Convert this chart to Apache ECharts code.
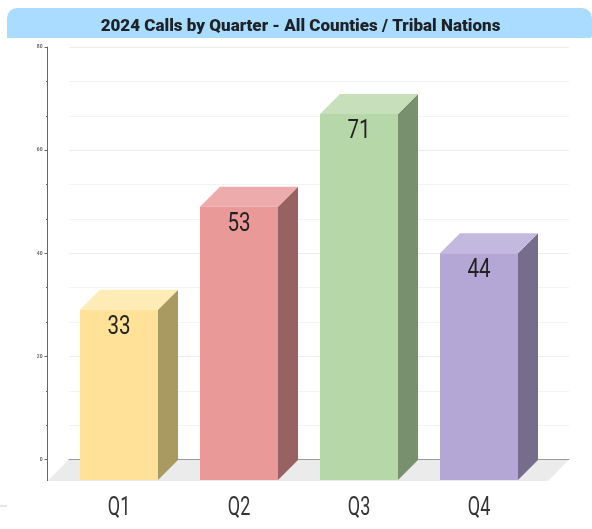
<!DOCTYPE html>
<html><head><meta charset="utf-8">
<style>html,body{margin:0;padding:0;background:#fff}#c{width:592px;height:529px}</style>
<script src="https://cdn.jsdelivr.net/npm/echarts@6/dist/echarts.min.js"></script>
</head><body><div id="c"></div>
<script>
const titleText = '2024 Calls by Quarter - All Counties / Tribal Nations';
const categories = ['Q1', 'Q2', 'Q3', 'Q4'];
const callValues = [33, 53, 71, 44];
const frontColors = ['#FFE298', '#EA9999', '#B6D7A8', '#B4A7D6'];
const sideColors = ['#A89A60', '#996262', '#78906E', '#766D8C'];
const topColors = ['#FFEBB5', '#EEABAB', '#C8DFBC', '#C3B9DF'];
const axisMin = 0, axisMax = 80, axisStep = 20;
const depth = 20;

const chart = echarts.init(document.getElementById('c'), null, {renderer: 'canvas'});

function renderBar(params, api) {
  const i = params.dataIndex;
  const top = api.coord([api.value(0), api.value(1)]);
  const base = api.coord([api.value(0), 0]);
  const w = api.size([1, 0])[0] * 0.65;
  const l = top[0] - w / 2, r = top[0] + w / 2, t = top[1], b = base[1];
  return {
    type: 'group',
    children: [
      {type: 'polygon', shape: {points: [[r, t], [r + depth, t - depth], [r + depth, b - depth], [r, b]]}, style: {fill: sideColors[i]}},
      {type: 'polygon', shape: {points: [[l, t], [l + depth, t - depth], [r + depth, t - depth], [r, t]]}, style: {fill: topColors[i]}},
      {type: 'rect', shape: {x: l, y: t, width: w, height: b - t}, style: {fill: frontColors[i]}},
      {type: 'text', x: top[0], y: t + 18, scaleX: 0.82, style: {text: String(callValues[i]), fill: '#222', font: '400 25px Roboto', align: 'center', verticalAlign: 'middle'}},
      {type: 'text', x: top[0], y: b + 29, scaleX: 0.72, style: {text: categories[i], fill: '#333', font: '400 25px Roboto', align: 'center', verticalAlign: 'middle'}}
    ]
  };
}

chart.setOption({
  animation: false,
  backgroundColor: '#fff',
  title: {
    text: titleText, left: 295.5, top: 12, textAlign: 'center',
    textStyle: {fontFamily: 'Roboto', fontWeight: 900, fontSize: 17, color: '#1d2226', lineHeight: 20}
  },
  graphic: [
    {type: 'rect', z: -1, shape: {x: 7, y: 8, width: 585, height: 30, r: [10, 10, 3, 0]}, style: {fill: '#A9DCFF'}},
    {type: 'polygon', z: -1, shape: {points: [[47.5, 481], [69, 459.5], [569, 459.5], [548, 481]]}, style: {fill: '#EBEBEB'}},
    {type: 'line', z: 1, shape: {x1: 47.5, y1: 459, x2: 47.5, y2: 481}, style: {stroke: '#666', lineWidth: 1}},
    {type: 'line', z: 1, shape: {x1: 0, y1: 506, x2: 7, y2: 506}, style: {stroke: '#ccc', lineWidth: 1}}
  ],
  grid: [
    {left: 69, right: 23, top: 47, height: 412.5},
    {left: 59, width: 480, top: 67.5, height: 412.5}
  ],
  xAxis: [
    {type: 'category', gridIndex: 0, data: categories, axisTick: {show: false}, axisLabel: {show: false},
      axisLine: {lineStyle: {color: '#999', width: 1}}},
    {type: 'category', gridIndex: 1, data: categories, show: false}
  ],
  yAxis: [
    {type: 'value', gridIndex: 0, min: axisMin, max: axisMax, interval: axisStep, offset: 21.5,
      axisLine: {show: true, lineStyle: {color: '#666', width: 1}},
      axisTick: {show: true, length: 3, lineStyle: {color: '#666'}},
      minorTick: {show: true, splitNumber: 3, length: 1.5, lineStyle: {color: '#666'}},
      axisLabel: {fontSize: 5, margin: 5, color: '#666', fontFamily: 'Roboto', fontWeight: 700},
      splitLine: {show: true, lineStyle: {color: '#EDEDED', width: 1}},
      minorSplitLine: {show: true, lineStyle: {color: '#F3F3F3', width: 1}}},
    {type: 'value', gridIndex: 1, min: axisMin, max: axisMax, interval: axisStep, show: false}
  ],
  series: [{
    type: 'custom', xAxisIndex: 1, yAxisIndex: 1, z: 3, clip: false,
    renderItem: renderBar,
    encode: {x: 0, y: 1},
    data: categories.map((c, i) => [i, callValues[i]])
  }]
});
</script></body></html>
